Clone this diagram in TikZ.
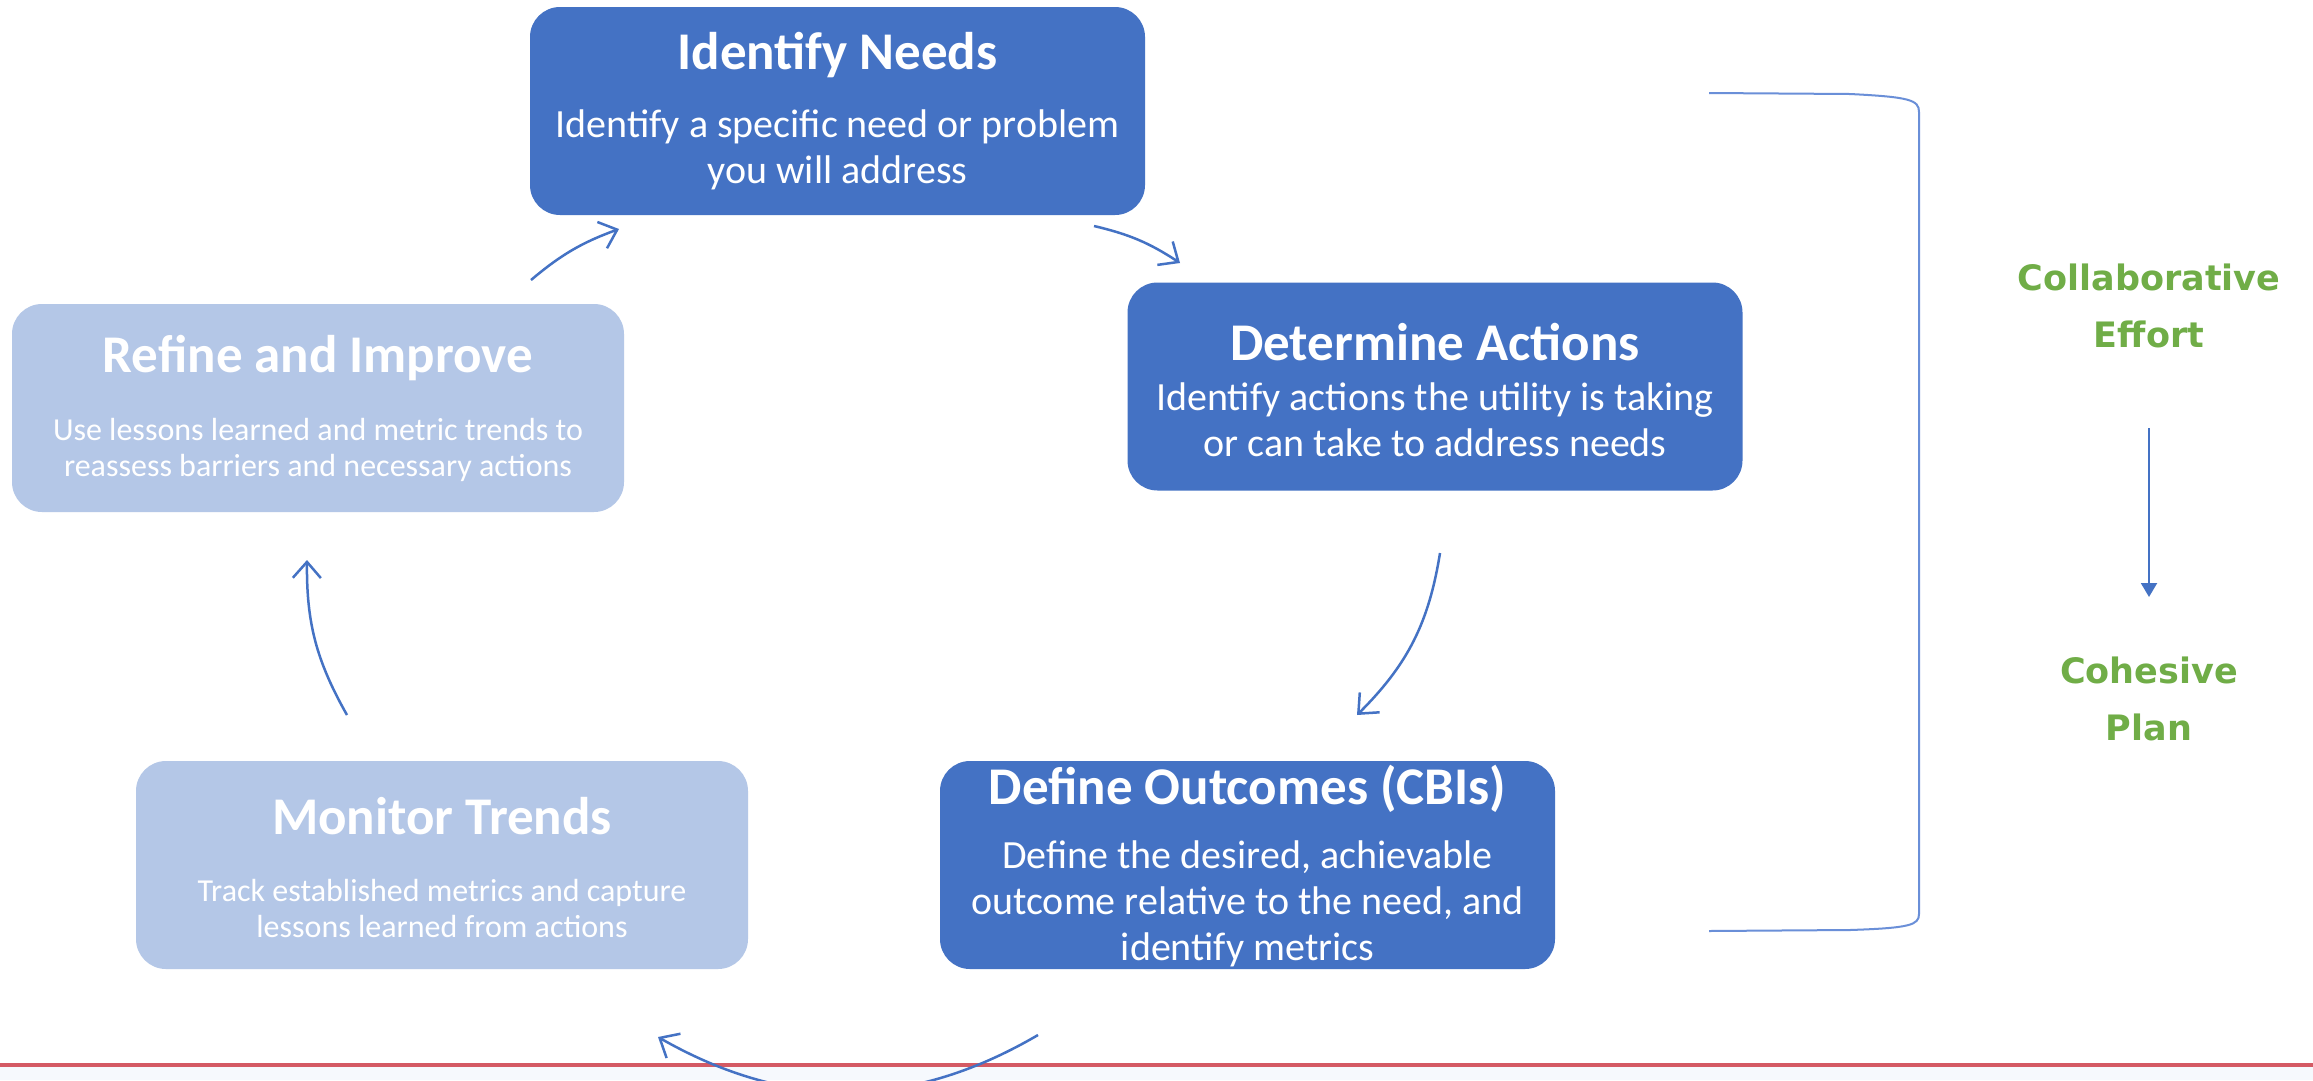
\documentclass[tikz,border=0pt]{standalone}
\usepackage{fontspec}
\setmainfont{Carlito}
\newfontfamily\greenfont{DejaVu Sans}
\usetikzlibrary{arrows.meta,calc}
\definecolor{dkblue}{HTML}{4472C4}
\definecolor{ltblue}{HTML}{B4C7E7}
\definecolor{brblue}{HTML}{6A8FD8}
\definecolor{grn}{HTML}{70AD47}
\definecolor{redline}{HTML}{D45A64}
\definecolor{pale}{HTML}{F6F9FD}
\tikzset{
  darkbox/.style={fill=dkblue, rounded corners=30pt, minimum width=615pt, minimum height=208pt, inner sep=0pt},
  lightbox/.style={fill=ltblue, rounded corners=30pt, minimum width=612pt, minimum height=208pt, inner sep=0pt},
  ttl/.style={text=white, inner sep=0pt, font=\fontsize{53}{60}\selectfont\bfseries},
  bdy/.style={text=white, inner sep=0pt, align=center, font=\fontsize{40}{46}\selectfont},
  sbdy/.style={text=white, inner sep=0pt, align=center, font=\fontsize{32}{36}\selectfont},
  gtext/.style={text=grn, inner sep=0pt, align=center, font=\greenfont\fontsize{35}{57}\selectfont\bfseries},
  cyc/.style={draw=dkblue, line width=2.5pt, -{Straight Barb[length=16pt,width=28pt,line width=2.5pt]}},
}
\begin{document}
\begin{tikzpicture}[x=1pt,y=-1pt]
\useasboundingbox (0,0) rectangle (2313,1080);
\fill[white] (0,0) rectangle (2313,1080);
\fill[pale] (0,1065) rectangle (2313,1080);
\draw[redline, line width=4pt] (0,1065) -- (2313,1065);

% boxes
\node[darkbox] (identify) at (837.5,111) {};
\node[ttl] (identifyT) at (837.5,55) {Identify Needs};
\node[bdy] (identifyB) at (837.5,150) {Identify a specific need or problem\\you will address};

\node[darkbox] (determine) at (1435,386.5) {};
\node[ttl] (determineT) at (1435,342) {Determine Actions};
\node[bdy] (determineB) at (1435,420) {Identify actions the utility is taking\\or can take to address needs};

\node[darkbox] (define) at (1247.5,865) {};
\node[ttl] (defineT) at (1247.5,789) {Define Outcomes (CBIs)};
\node[bdy] (defineB) at (1247.5,904) {Define the desired, achievable\\outcome relative to the need, and\\identify metrics};

\node[lightbox] (monitor) at (442,865) {};
\node[ttl] (monitorT) at (442,816) {Monitor Trends};
\node[sbdy] (monitorB) at (442,908) {Track established metrics and capture\\lessons learned from actions};

\node[lightbox] (refine) at (318,408) {};
\node[ttl] (refineT) at (318,358) {Refine and Improve};
\node[sbdy] (refineB) at (318,450) {Use lessons learned and metric trends to\\reassess barriers and necessary actions};

% cycle arrows
\coordinate (a1s) at (531,280); \coordinate (a1e) at (619,229);
\coordinate (a2s) at (1094,226); \coordinate (a2e) at (1180,263);
\coordinate (a3s) at (1440,553); \coordinate (a3e) at (1357,715);
\coordinate (a4s) at (1038,1035); \coordinate (a4e) at (658,1037);
\coordinate (a5s) at (347,715); \coordinate (a5e) at (307,560);
\draw[cyc] (a1s) to[bend left=10] (a1e);
\draw[cyc] (a2s) to[bend left=10] (a2e);
\draw[cyc] (a3s) to[bend left=18] (a3e);
\draw[cyc] (a4s) to[bend left=30] (a4e);
\draw[cyc] (a5s) to[bend left=15] (a5e);

% bracket
\coordinate (bt) at (1709,93);
\coordinate (bb) at (1709,931);
\draw[brblue, line width=2pt] (bt) -- (1850,94) .. controls (1910,97) and (1919,100) .. (1919,112) -- (1919,914) .. controls (1919,925) and (1910,928) .. (1850,930) -- (bb);

% right side
\node[gtext] (collab) at (2149,306) {Collaborative\\Effort};
\node[gtext] (plan) at (2149,699) {Cohesive\\Plan};
\coordinate (g1) at (2149,428);
\coordinate (g2) at (2149,597);
\draw[dkblue, line width=2pt, -{Triangle[length=14pt,width=16pt]}] (g1) -- (g2);
\end{tikzpicture}
\end{document}
